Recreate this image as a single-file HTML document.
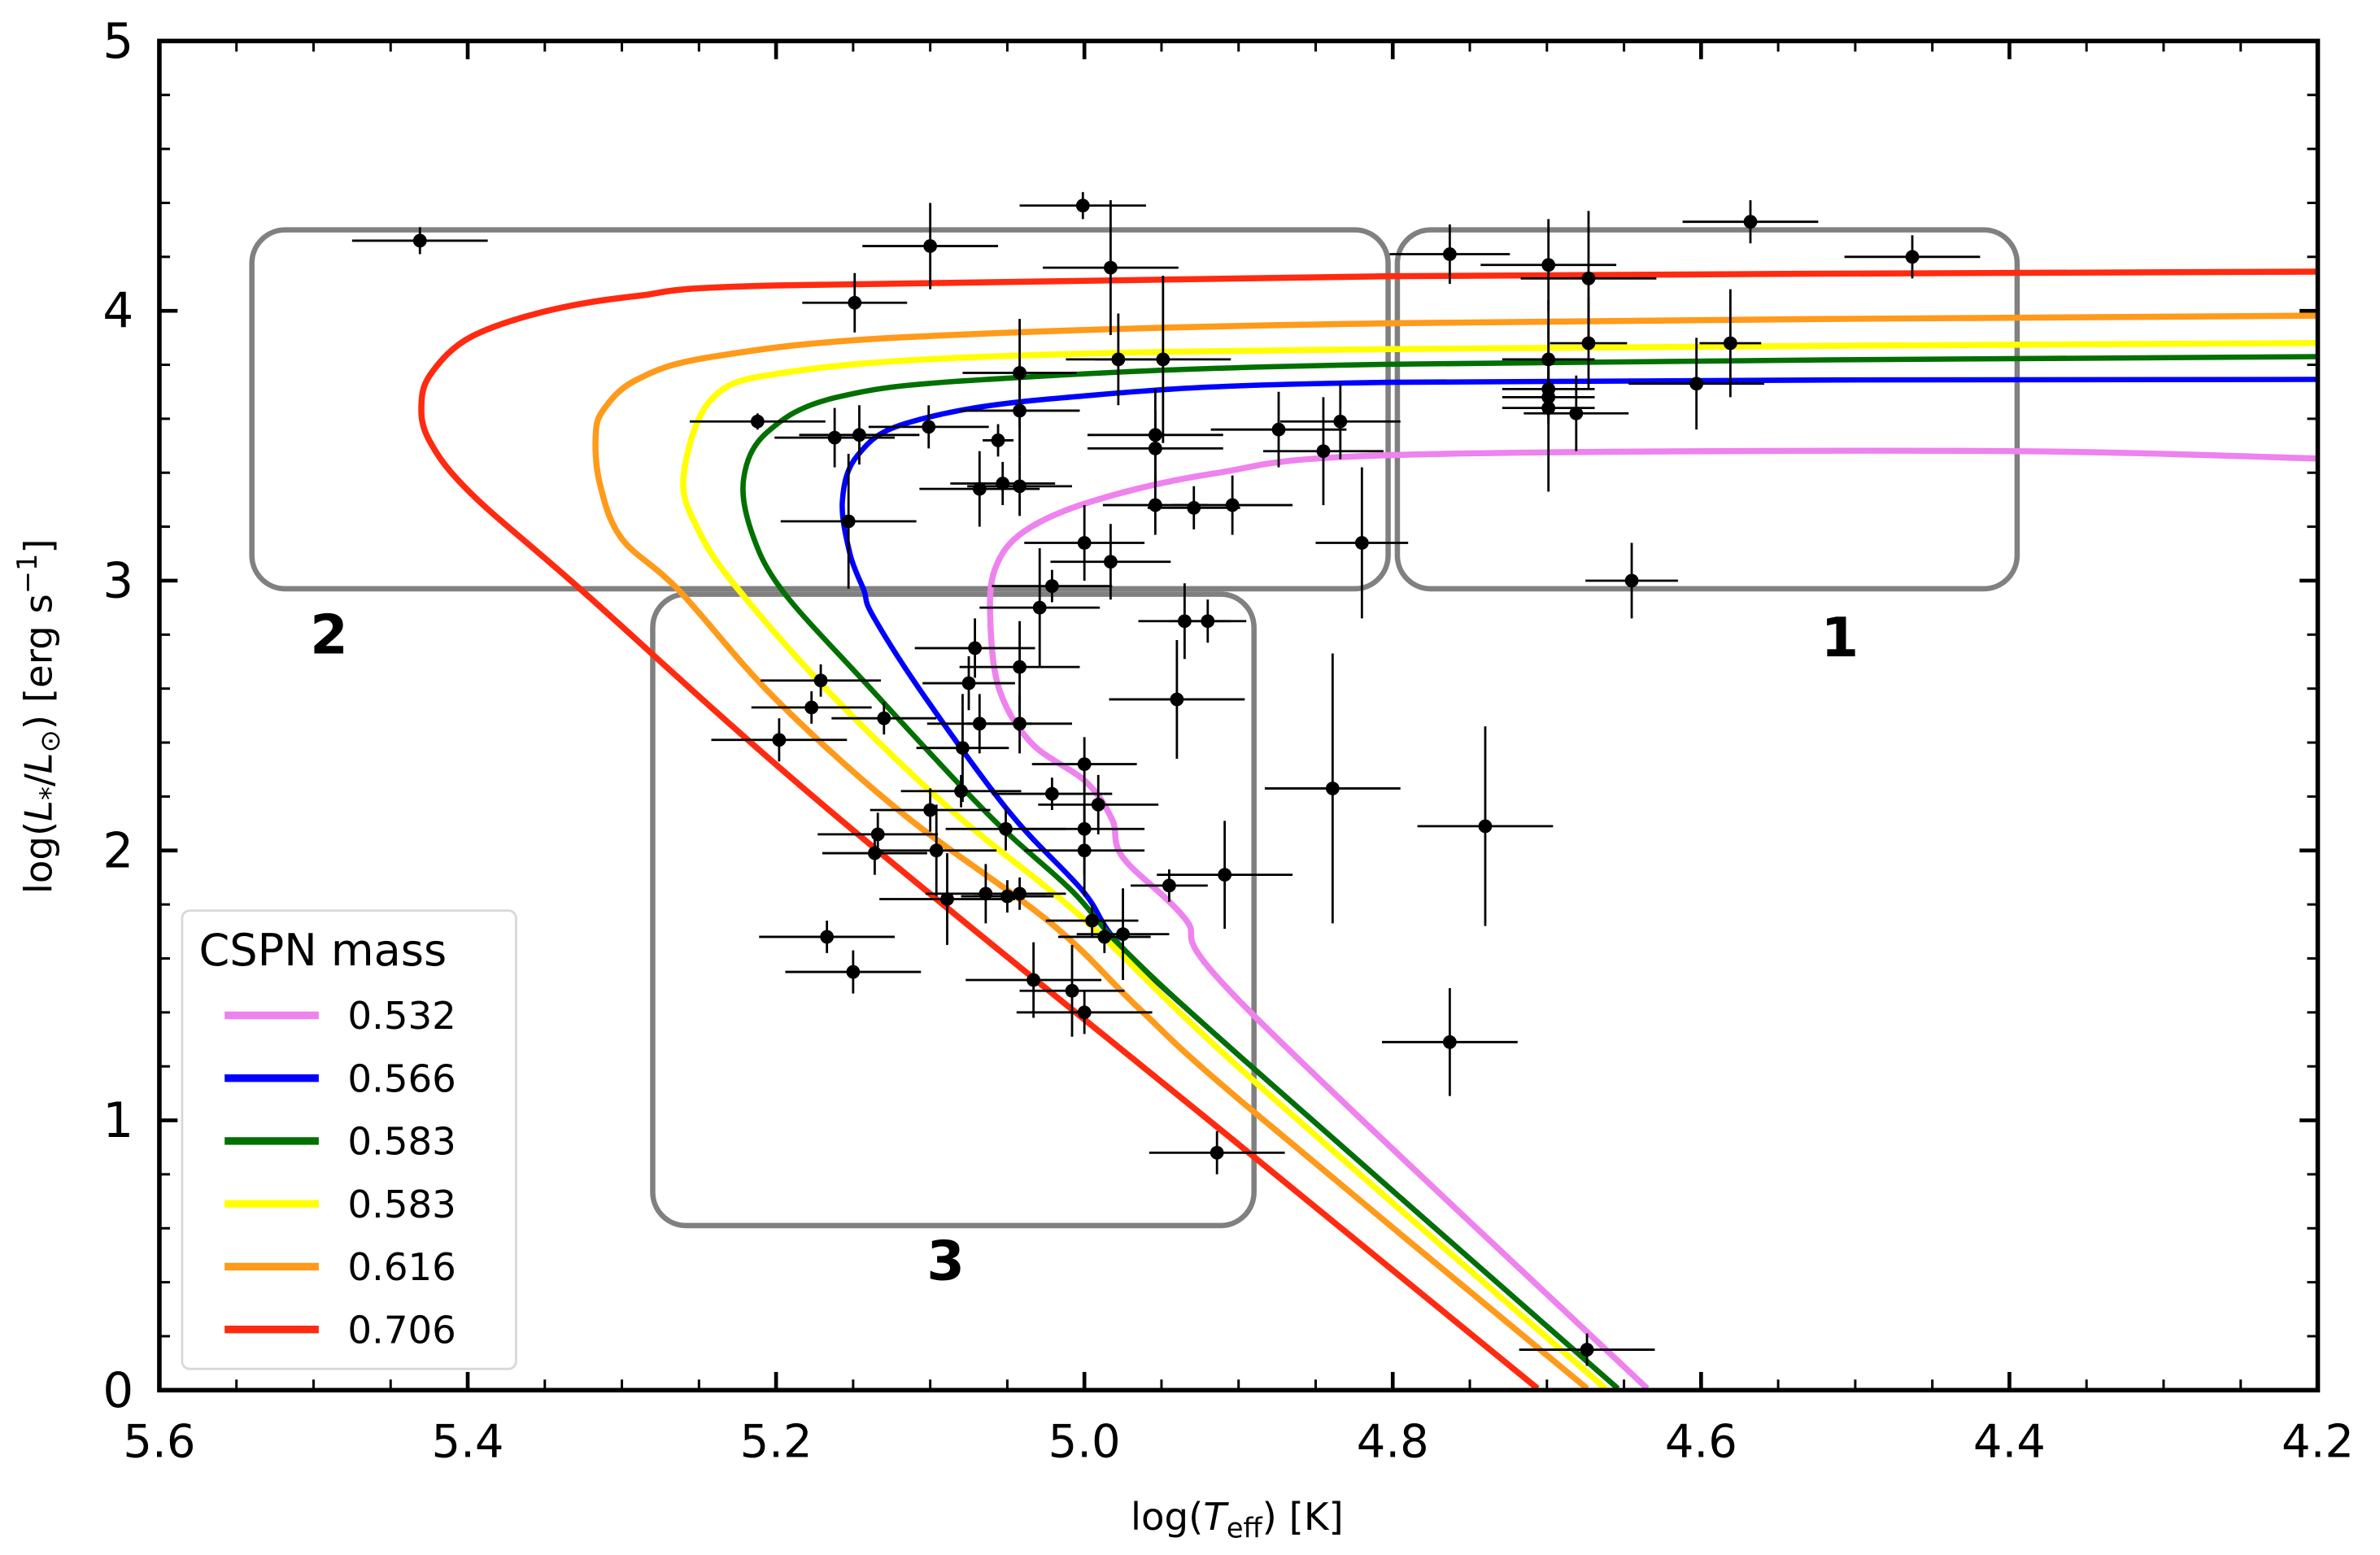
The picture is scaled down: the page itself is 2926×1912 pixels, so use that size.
<!DOCTYPE html>
<html><head><meta charset="utf-8">
<style>html,body{margin:0;padding:0;background:#fff}svg{display:block}text{font-family:"DejaVu Sans","Liberation Sans",sans-serif}</style>
</head><body>
<svg id="chart" width="2926" height="1912" viewBox="0 0 1568 1024.6" xmlns="http://www.w3.org/2000/svg">
<g id="boxes"></g><g id="tracks"></g><g id="points"></g><g id="axes"></g><g id="legend"></g>
</svg>
<script>
const xTicks=[5.6,5.4,5.2,5.0,4.8,4.6,4.4,4.2];
const xTickLabels=["5.6","5.4","5.2","5.0","4.8","4.6","4.4","4.2"];
const yTicks=[0,1,2,3,4,5];
const yTickLabels=["0","1","2","3","4","5"];
const ptX=[5.431,5.10,5.001,4.983,5.149,4.978,4.949,5.042,5.212,5.162,5.146,5.101,5.056,5.042,4.954,4.954,4.874,4.834,4.845,5.068,5.053,5.042,5.153,4.954,4.929,4.904,5.0,4.983,4.82,5.021,5.029,4.935,4.920,4.645,4.763,4.699,4.673,4.568,4.463,4.673,4.581,4.699,4.603,4.699,4.699,4.699,4.681,5.071,5.042,5.171,5.075,4.940,5.177,5.130,5.068,5.042,5.198,5.079,5.0,4.839,5.021,5.080,4.991,5.100,4.740,5.0,5.134,5.051,5.096,5.0,5.136,4.909,4.945,5.064,5.050,5.042,5.089,4.995,4.975,4.987,5.167,5.150,5.033,5.008,5.0,4.763,4.914,4.674];
const ptY=[4.26,4.24,4.39,4.16,4.03,3.82,3.82,3.77,3.59,3.53,3.54,3.57,3.52,3.63,3.54,3.49,3.56,3.59,3.48,3.34,3.36,3.35,3.22,3.28,3.27,3.28,3.14,3.07,3.14,2.98,2.90,2.85,2.85,3.0,4.21,4.17,4.12,4.33,4.20,3.88,3.88,3.82,3.73,3.71,3.68,3.64,3.62,2.75,2.68,2.63,2.62,2.56,2.53,2.49,2.47,2.47,2.41,2.38,2.32,2.23,2.21,2.22,2.17,2.15,2.09,2.08,2.06,2.08,2.00,2.0,1.99,1.91,1.87,1.84,1.83,1.84,1.82,1.74,1.69,1.68,1.68,1.55,1.52,1.48,1.40,1.29,0.88,0.15];
const ptXErr=[0.044,0.044,0.041,0.044,0.034,0.034,0.044,0.037,0.044,0.039,0.039,0.039,0.01,0.039,0.044,0.044,0.044,0.039,0.039,0.039,0.034,0.034,0.044,0.034,0.03,0.039,0.039,0.039,0.03,0.039,0.039,0.03,0.025,0.03,0.039,0.044,0.044,0.044,0.044,0.025,0.02,0.03,0.044,0.03,0.03,0.03,0.034,0.039,0.039,0.039,0.03,0.044,0.039,0.034,0.034,0.034,0.044,0.03,0.034,0.044,0.039,0.039,0.039,0.039,0.044,0.039,0.039,0.039,0.039,0.039,0.034,0.044,0.025,0.039,0.03,0.03,0.044,0.03,0.03,0.03,0.044,0.044,0.044,0.034,0.044,0.044,0.044,0.044];
const ptYErr=[0.05,0.16,0.05,0.25,0.11,0.17,0.31,0.2,0.03,0.11,0.11,0.08,0.06,0.17,0.17,0.14,0.14,0.14,0.2,0.14,0.08,0.11,0.25,0.11,0.08,0.11,0.14,0.14,0.28,0.06,0.22,0.14,0.08,0.14,0.11,0.17,0.25,0.08,0.08,0.17,0.2,0.22,0.17,0.1,0.1,0.31,0.14,0.11,0.17,0.06,0.1,0.22,0.06,0.06,0.11,0.11,0.08,0.2,0.1,0.5,0.06,0.06,0.11,0.08,0.37,0.17,0.08,0.08,0.17,0.17,0.08,0.2,0.06,0.11,0.06,0.06,0.17,0.06,0.17,0.06,0.06,0.08,0.14,0.17,0.08,0.2,0.08,0.06];
const trackLabels=["0.532","0.566","0.583","0.583","0.616","0.706"];
const trackColors=["#ee82ee","#0000ff","#007000","#ffff00","#ff9a1a","#ff2a10"];
const pinkX=[4.200,4.423,4.802,4.916,4.994,5.039,5.058,5.061,5.055,5.034,4.999,4.982,4.975,4.935,4.898,4.635];
const pinkY=[3.453,3.481,3.465,3.397,3.296,3.183,3.043,2.846,2.593,2.396,2.255,2.115,1.974,1.749,1.434,0.006];
const blueX=[4.200,4.802,5.014,5.113,5.147,5.157,5.152,5.143,5.137,5.103,5.048,5.001,4.975,4.898,4.654];
const blueY=[3.746,3.735,3.678,3.588,3.465,3.296,3.099,2.964,2.868,2.565,2.137,1.850,1.637,1.232,0.006];
const greenX=[4.200,4.802,5.063,5.162,5.206,5.221,5.216,5.196,5.142,5.063,5.008,4.975,4.898,4.654];
const greenY=[3.830,3.802,3.746,3.678,3.549,3.380,3.183,2.964,2.621,2.137,1.850,1.637,1.232,0.006];
const yellowX=[4.200,4.802,5.063,5.191,5.241,5.260,5.250,5.224,5.162,5.084,5.001,4.898,4.662];
const yellowY=[3.881,3.858,3.830,3.774,3.678,3.386,3.183,2.964,2.565,2.137,1.749,1.187,0.006];
const orangeX=[4.200,4.802,5.113,5.241,5.290,5.312,5.317,5.314,5.300,5.263,5.201,5.118,5.022,4.965,4.898,4.674];
const orangeY=[3.982,3.954,3.903,3.830,3.746,3.633,3.532,3.352,3.155,2.964,2.565,2.137,1.732,1.417,1.069,0.006];
const redX=[4.200,4.802,5.201,5.290,5.349,5.398,5.423,5.430,5.425,5.398,5.326,5.163,4.894,4.706];
const redY=[4.145,4.128,4.094,4.055,3.999,3.903,3.774,3.661,3.521,3.324,2.964,2.137,0.883,0.006];
const trackXs=[pinkX,blueX,greenX,yellowX,orangeX,redX];
const trackYs=[pinkY,blueY,greenY,yellowY,orangeY,redY];

const L=105,R=1527,T=27,B=916;
const X0=5.6,X1=4.2,Y0=0,Y1=5;
function sx(v){return L+(X0-v)/(X0-X1)*(R-L);}
function sy(v){return B-(v-Y0)/(Y1-Y0)*(B-T);}
const NS="http://www.w3.org/2000/svg";
function mk(tag,attrs,parent,txt){const e=document.createElementNS(NS,tag);for(const k in attrs)e.setAttribute(k,attrs[k]);if(txt!==undefined)e.textContent=txt;parent.appendChild(e);return e;}

const boxes=document.getElementById('boxes');
const boxDefs=[["region-2-box",5.54,4.803,4.30,2.97,"2",5.49,2.73],["region-1-box",4.797,4.395,4.30,2.97,"1",4.51,2.72],["region-3-box",5.28,4.89,2.95,0.61,"3",5.09,0.41]];
boxDefs.forEach(b=>{
  const r=mk('rect',{x:sx(b[1]),y:sy(b[3]),width:sx(b[2])-sx(b[1]),height:sy(b[4])-sy(b[3]),rx:22,ry:22,fill:'none',stroke:'#808080','stroke-width':3.5},boxes);
  
  
  const t=mk('text',{x:sx(b[6]),y:sy(b[7]),'font-size':36,'font-weight':'bold','text-anchor':'middle',fill:'#000'},boxes,b[5]);
  
  
});

const tracks=document.getElementById('tracks');
for(let i=0;i<trackXs.length;i++){
  const P=trackXs[i].map((x,j)=>[sx(x),sy(trackYs[i][j])]);
  let d='M'+P[0][0].toFixed(1)+','+P[0][1].toFixed(1);
  for(let j=0;j<P.length-1;j++){
    const p0=P[Math.max(j-1,0)],p1=P[j],p2=P[j+1],p3=P[Math.min(j+2,P.length-1)];
    const c1=[p1[0]+(p2[0]-p0[0])/6,p1[1]+(p2[1]-p0[1])/6],c2=[p2[0]-(p3[0]-p1[0])/6,p2[1]-(p3[1]-p1[1])/6];
    d+=' C'+c1[0].toFixed(1)+','+c1[1].toFixed(1)+' '+c2[0].toFixed(1)+','+c2[1].toFixed(1)+' '+p2[0].toFixed(1)+','+p2[1].toFixed(1);
  }
  const p=mk('path',{d:d,fill:'none',stroke:trackColors[i],'stroke-width':i===1||i===2?3.5:4,'stroke-linejoin':'round'},tracks);
  
  
}

const pts=document.getElementById('points');
for(let i=0;i<ptX.length;i++){
  const g=mk('g',{},pts);
  
  
  const cx=sx(ptX[i]),cy=sy(ptY[i]);
  mk('line',{x1:sx(ptX[i]-ptXErr[i]),x2:sx(ptX[i]+ptXErr[i]),y1:cy,y2:cy,stroke:'#000','stroke-width':1.5},g);
  mk('line',{x1:cx,x2:cx,y1:sy(ptY[i]-ptYErr[i]),y2:sy(ptY[i]+ptYErr[i]),stroke:'#000','stroke-width':1.5},g);
  mk('circle',{cx:cx,cy:cy,r:4.5,fill:'#000'},g);
}

const ax=document.getElementById('axes');
const frame=mk('rect',{x:L,y:T,width:R-L,height:B-T,fill:'none',stroke:'#000','stroke-width':3},ax);


for(let v=4.25;v<=5.551;v+=0.05){
  const x=sx(v);const major=Math.abs(v*5-Math.round(v*5))<1e-6;const len=major?12:7;
  mk('line',{x1:x,x2:x,y1:B,y2:B-len,stroke:'#000','stroke-width':major?2.5:1.6},ax);
  mk('line',{x1:x,x2:x,y1:T,y2:T+len,stroke:'#000','stroke-width':major?2.5:1.6},ax);
}
for(let v=0.2;v<4.9;v+=0.2){
  const y=sy(v);const major=Math.abs(v-Math.round(v))<1e-6;const len=major?12:7;
  mk('line',{x1:L,x2:L+len,y1:y,y2:y,stroke:'#000','stroke-width':major?2.5:1.6},ax);
  mk('line',{x1:R,x2:R-len,y1:y,y2:y,stroke:'#000','stroke-width':major?2.5:1.6},ax);
}
xTicks.forEach((v,i)=>{
  const t=mk('text',{x:sx(v),y:B+44,'font-size':30,'text-anchor':'middle',fill:'#000'},ax,xTickLabels[i]);
  
  
});
yTicks.forEach((v,i)=>{
  const t=mk('text',{x:L-17,y:sy(v)+11,'font-size':32,'text-anchor':'end',fill:'#000'},ax,yTickLabels[i]);
  
  
});
const xt=mk('text',{x:815,y:1008,'font-size':25,'text-anchor':'middle',fill:'#000'},ax);


xt.innerHTML='log(<tspan font-style="italic">T</tspan><tspan font-size="18" dy="5">eff</tspan><tspan dy="-5">) [K]</tspan>';
const yt=mk('text',{x:0,y:0,'font-size':25,'text-anchor':'middle',fill:'#000',transform:'translate(34,472) rotate(-90)'},ax);


yt.innerHTML='log(<tspan font-style="italic">L</tspan><tspan font-size="18" dy="5">*</tspan><tspan dy="-5">/</tspan><tspan font-style="italic">L</tspan><tspan font-size="18" dy="5">⊙</tspan><tspan dy="-5">) [erg s</tspan><tspan font-size="18" dy="-10">−1</tspan><tspan dy="10">]</tspan>';

const lg=document.getElementById('legend');
const lb=mk('rect',{x:120,y:600,width:220,height:302,rx:5,fill:'#fff','fill-opacity':0.9,stroke:'#d8d8d8','stroke-width':1.5},lg);


const lt=mk('text',{x:131,y:636,'font-size':29,fill:'#000'},lg,'CSPN mass');


trackLabels.forEach((lab,i)=>{
  const y=669+i*41.4;
  const g=mk('g',{},lg);
  
  
  mk('line',{x1:148,x2:210,y1:y,y2:y,stroke:trackColors[i],'stroke-width':5},g);
  mk('text',{x:229,y:y+9,'font-size':25,fill:'#000'},g,lab);
});
</script>
</body></html>
